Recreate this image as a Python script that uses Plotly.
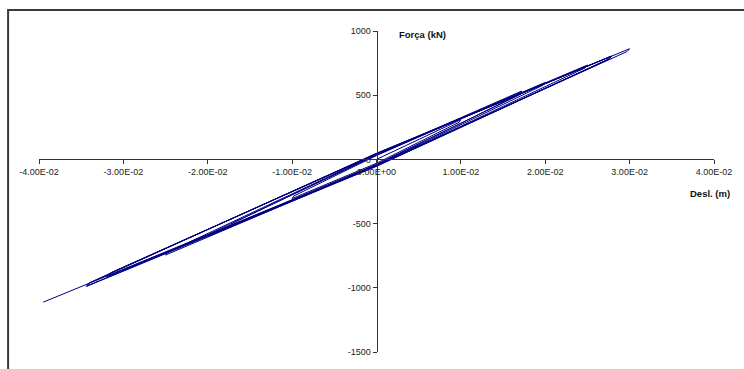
import plotly.graph_objects as go

# Hysteresis record: displacement (m) vs. force (kN), cycle vertices in order
desl_m = [
    0.0000, 0.0100, 0.0098, 0.0000, -0.0100, -0.0098, 0.0000,
    0.0171, 0.0170, 0.0000, -0.0172, -0.0170, 0.0000,
    0.0172, 0.0171, 0.0000, -0.0200, -0.0198, 0.0000,
    0.0200, 0.0198, 0.0000, -0.0250, -0.0247, 0.0000,
    0.0250, 0.0247, 0.0000, -0.0317, -0.0314, 0.0000,
    0.0276, 0.0273, 0.0000, -0.0320, -0.0317, 0.0000,
    0.0278, 0.0275, 0.0000, -0.0343, -0.0340, 0.0000,
    0.0279, 0.0276, 0.0000, -0.0344, -0.0341, 0.0000,
    0.0300, 0.0297, 0.0000, -0.0395,
]
forca_kn = [
    0, 310, 290, -30, -305, -285, 30,
    525, 505, -38, -515, -495, 38,
    532, 512, -42, -600, -580, 34,
    600, 580, -46, -745, -722, 40,
    735, 712, -50, -905, -880, 44,
    798, 775, -52, -915, -890, 42,
    803, 780, -48, -985, -960, 46,
    806, 782, -54, -990, -965, 48,
    862, 840, -44, -1112,
]

x_ticks = [-0.04, -0.03, -0.02, -0.01, 0.0, 0.01, 0.02, 0.03, 0.04]
x_tick_text = ["-4.00E-02", "-3.00E-02", "-2.00E-02", "-1.00E-02", "0.00E+00",
               "1.00E-02", "2.00E-02", "3.00E-02", "4.00E-02"]
y_ticks = [-1500, -1000, -500, 0, 500, 1000]
y_tick_text = ["-1500", "-1000", "-500", "0", "500", "1000"]

axis_color = "#333333"
tick_font = dict(family="Liberation Sans, Arial, sans-serif", size=9, color="#222222")
title_font = dict(family="Liberation Sans, Arial, sans-serif", size=9.5, color="#111111")

fig = go.Figure()
fig.add_trace(go.Scatter(
    x=desl_m, y=forca_kn, mode="lines",
    line=dict(color="#000080", width=1),
    showlegend=False, hoverinfo="skip",
))

fig.update_layout(
    width=744, height=369,
    margin=dict(l=39, r=28, t=31, b=16),
    paper_bgcolor="white", plot_bgcolor="white",
    xaxis=dict(
        range=[-0.04, 0.04], anchor="free", position=0.6,
        tickmode="array", tickvals=x_ticks, ticktext=x_tick_text,
        ticks="outside", ticklen=4, tickcolor=axis_color, tickwidth=1,
        showline=True, linecolor=axis_color, linewidth=1,
        showgrid=False, zeroline=False, tickfont=tick_font,
    ),
    yaxis=dict(
        range=[-1500, 1000], anchor="free", position=0.5,
        tickmode="array", tickvals=y_ticks, ticktext=y_tick_text,
        ticks="outside", ticklen=4, tickcolor=axis_color, tickwidth=1,
        showline=True, linecolor=axis_color, linewidth=1,
        showgrid=False, zeroline=False, tickfont=tick_font,
    ),
    annotations=[
        dict(text="<b>Força (kN)</b>", xref="paper", yref="paper",
             x=(398 - 39) / 677, y=(353 - 35) / 322,
             xanchor="left", yanchor="middle", showarrow=False, font=title_font),
        dict(text="<b>Desl. (m)</b>", xref="paper", yref="paper",
             x=(690 - 39) / 677, y=(353 - 194) / 322,
             xanchor="left", yanchor="middle", showarrow=False, font=title_font),
    ],
    shapes=[
        dict(type="rect", xref="paper", yref="paper",
             x0=(8 - 39) / 677, x1=1.2, y0=-0.2, y1=(353 - 10) / 322,
             line=dict(color="#3a3a3a", width=2), fillcolor="rgba(0,0,0,0)",
             layer="below"),
    ],
)

fig.write_html("out.html")
